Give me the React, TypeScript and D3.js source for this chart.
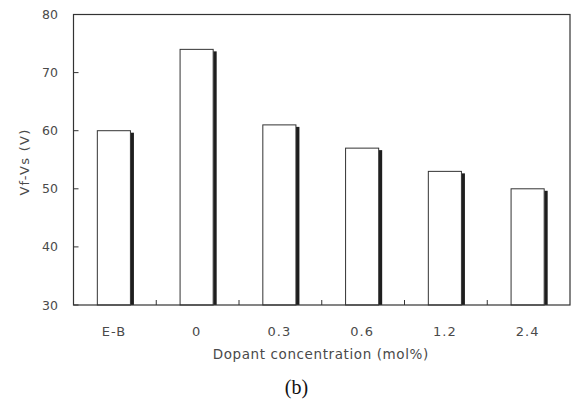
import React from "react";
import * as d3 from "d3";

const categories = ["E-B", "0", "0.3", "0.6", "1.2", "2.4"];
const values = [60, 74, 61, 57, 53, 50];
const yTicks = [30, 40, 50, 60, 70, 80];

export default function App() {
  const W = 572, H = 403;
  const left = 73.5, right = 570, top = 14.5, bottom = 305;
  const x = d3.scaleBand<string>().domain(categories).range([left, right]).paddingInner(0).paddingOuter(0);
  const y = d3.scaleLinear().domain([30, 80]).range([bottom, top]);
  const bw = x.bandwidth() * 0.4;
  const font = "'DejaVu Sans', 'Liberation Sans', sans-serif";
  const textColor = "#4a4a4a";
  return (
    <svg width={W} height={H} style={{ position: "absolute", left: 0, top: 0, background: "#fff" }}>
      <rect x={0} y={0} width={W} height={H} fill="#fff" />
      {categories.map((c, i) => {
        const cx = x(c)! + x.bandwidth() / 2 - 1;
        const x0 = cx - bw / 2;
        const yt = y(values[i]);
        return (
          <g key={c}>
            <rect x={x0 + bw} y={yt + 2} width={3.5} height={bottom - yt - 2} fill="#1e1e1e" />
            <rect x={x0} y={yt} width={bw} height={bottom - yt} fill="#fff" stroke="#333" strokeWidth={1} />
          </g>
        );
      })}
      <rect x={left} y={top} width={right - left} height={bottom - top} fill="none" stroke="#333" strokeWidth={1.2} />
      {yTicks.map((t) => (
        <g key={t}>
          <line x1={left} x2={left + 5} y1={y(t)} y2={y(t)} stroke="#333" />
          <text x={58} y={y(t)} dy="0.36em" textAnchor="end" fontFamily={font} fontSize={12.5} fill={textColor}>{t}</text>
        </g>
      ))}
      {categories.slice(1).map((c) => (
        <line key={c} x1={x(c)!} x2={x(c)!} y1={bottom} y2={bottom - 5} stroke="#333" />
      ))}
      {categories.map((c) => (
        <text key={c} x={x(c)! + x.bandwidth() / 2 - 1} y={335.5} textAnchor="middle" fontFamily={font} fontSize={13} letterSpacing={1} fill={textColor}>{c}</text>
      ))}
      <text x={(left + right) / 2 - 1} y={359} textAnchor="middle" fontFamily={font} fontSize={13.5} letterSpacing={0.6} fill={textColor}>Dopant concentration (mol%)</text>
      <text transform={`translate(29,${162}) rotate(-90)`} textAnchor="middle" fontFamily={font} fontSize={13} letterSpacing={1.3} fill={textColor}>Vf-Vs (V)</text>
      <text x={296.5} y={394} textAnchor="middle" fontFamily="'Liberation Serif', 'Times New Roman', serif" fontSize={20} fill="#111">(b)</text>
    </svg>
  );
}
